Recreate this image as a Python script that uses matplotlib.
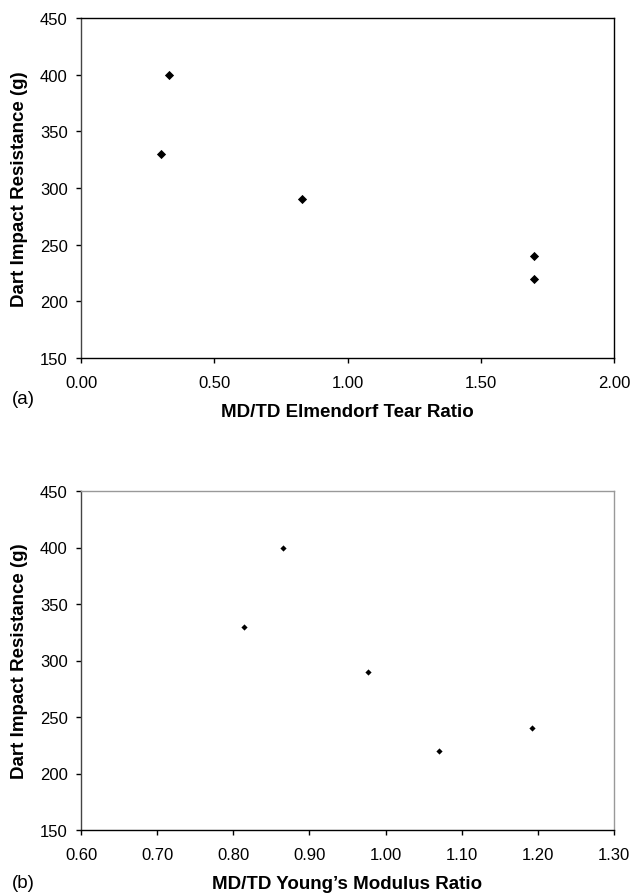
import matplotlib
matplotlib.use("Agg")
import matplotlib.pyplot as plt

plt.rcParams['font.family'] = ['Liberation Sans', 'DejaVu Sans']

# panel (a): tear ratio vs dart impact
tear_ratio = [0.30, 0.33, 0.83, 1.70, 1.70]
dart_a = [330, 400, 290, 240, 220]

# panel (b): modulus ratio vs dart impact
modulus_ratio = [0.814, 0.865, 0.977, 1.070, 1.192]
dart_b = [330, 400, 290, 220, 240]

fig = plt.figure(figsize=(6.34, 8.95), dpi=100)
W, H = 634, 895

ax1 = fig.add_axes([81 / W, 1 - 359 / H, 533 / W, 340 / H])
ax2 = fig.add_axes([81 / W, 1 - 831 / H, 533 / W, 339 / H])


def style(ax, right_col):
    ax.spines['left'].set_color('#444444')
    ax.spines['bottom'].set_color('black')
    ax.spines['top'].set_color(right_col)
    ax.spines['right'].set_color(right_col)
    for s in ax.spines.values():
        s.set_linewidth(1.0)
    ax.tick_params(direction='out', length=3.6, width=1, labelsize=12)
    ax.tick_params(axis='x', pad=8.5)
    ax.tick_params(axis='y', pad=6)
    ax.set_ylim(150, 450)
    ax.set_yticks(range(150, 451, 50))
    ax.set_ylabel('Dart Impact Resistance (g)', fontsize=13.5, fontweight='bold')
    ax.yaxis.set_label_coords(-61 / 533, 0.5)
    ax.yaxis.label.set_va('center')


ax1.scatter(tear_ratio, dart_a, marker='D', s=22, color='black', linewidths=0, zorder=3)
ax1.set_xlim(0, 2)
ax1.set_xticks([0, 0.5, 1.0, 1.5, 2.0])
ax1.set_xticklabels(['0.00', '0.50', '1.00', '1.50', '2.00'])
style(ax1, 'black')
ax1.set_xlabel('MD/TD Elmendorf Tear Ratio', fontsize=13.5, fontweight='bold')
ax1.xaxis.set_label_coords(0.5, -54 / 340)
ax1.xaxis.label.set_va('center')

ax2.scatter(modulus_ratio, dart_b, marker='D', s=10, color='black', linewidths=0, zorder=3)
ax2.set_xlim(0.6, 1.3)
ax2.set_xticks([0.6, 0.7, 0.8, 0.9, 1.0, 1.1, 1.2, 1.3])
ax2.set_xticklabels(['0.60', '0.70', '0.80', '0.90', '1.00', '1.10', '1.20', '1.30'])
style(ax2, '#999999')
ax2.set_xlabel('MD/TD Young\u2019s Modulus Ratio', fontsize=13.5, fontweight='bold')
ax2.xaxis.set_label_coords(0.5, -54 / 339)
ax2.xaxis.label.set_va('center')

fig.text(12 / W, 1 - 400 / H, '(a)', fontsize=13.5, va='center', ha='left')
fig.text(12 / W, 1 - 884 / H, '(b)', fontsize=13.5, va='center', ha='left')

fig.savefig('out.png', dpi=100)
